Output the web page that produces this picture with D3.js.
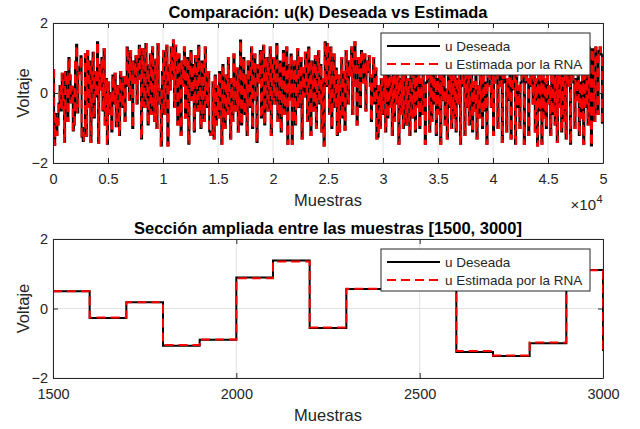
<!DOCTYPE html>
<html>
<head>
<meta charset="utf-8">
<script src="https://cdn.jsdelivr.net/npm/d3@7"></script>
<style>
  body { margin: 0; background: #fff; }
  svg { display: block; }
  text { font-family: "Liberation Sans", Arial, Helvetica, sans-serif; fill: #262626; }
</style>
</head>
<body>
<svg id="fig" width="640" height="429"></svg>
<script>
// Señal de control deseada: un nivel constante cada 100 muestras (500 escalones)
const muestrasPorPaso = 100;
const uDeseada = [
  0.65, -1.48, -0.6, -1.2, -0.9, -0.3, 0.2, -0.5, 0.55, -0.2,
  -1.4, 0.6, 0.1, -0.8, 1.0, 0.5, -0.27, 0.18, -1.07, -0.9,
  0.89, 1.38, -0.56, 0.56, 0.75, 1.05, -1.25, -1.37, -1.0, 1.11,
  -1.22, 1.2, -0.4, 0.9, -1.4, 0.3, 1.15, -0.7, 0.6, -0.1,
  1.45, -1.42, 0.8, 0.1, 1.0, -0.5, 1.25, -0.9, 0.4, -1.45,
  0.3, -0.6, 0.0, -1.1, 0.5, -0.3, 0.55, -0.95, 0.2, -0.5,
  -1.2, 0.6, 0.1, -0.4, 0.45, -0.8, 0.2, 1.3, 0.9, -0.2,
  1.2, 0.5, -1.0, 0.9, 0.3, 1.05, -0.3, 0.7, 1.35, 0.4,
  -1.3, 1.25, 0.6, -0.4, 1.4, 0.8, -0.9, 0.5, 1.1, -0.6,
  1.3, 0.2, -0.8, 0.95, -1.0, 1.4, 0.1, -0.3, -1.5, 0.6,
  1.2, -0.6, 0.3, 1.35, -1.5, 0.8, 0.1, 1.3, 0.4, 1.5,
  -0.4, 1.35, 0.7, -0.9, 1.1, 0.3, -1.2, 0.9, 0.2, 1.3,
  -0.7, 0.5, 1.0, -1.45, 0.4, 1.2, -0.2, 0.8, -1.1, 1.05,
  0.6, -0.5, 1.35, 0.2, -1.0, 0.9, 0.5, -0.8, 1.3, 0.1,
  -0.4, 0.6, -1.1, -1.2, -1.15, 0.3, -1.3, 0.5, -0.9, 0.2,
  -0.7, 0.6, -0.2, -1.45, 0.8, 0.3, -1.0, 0.5, -0.6, 1.0,
  -0.3, -1.3, 0.4, -0.8, 1.1, 0.2, -0.5, 0.7, -1.1, 0.4,
  1.5, -0.9, 0.3, 1.0, -0.6, 0.5, -1.2, 0.9, 0.2, -0.4,
  1.3, -1.0, 0.6, 1.1, -0.2, -1.4, 0.8, 0.3, 1.2, -0.7,
  0.5, 1.35, -0.9, 0.2, 1.0, -0.5, 0.7, 1.3, -1.2, 0.4,
  1.0, -0.3, 0.6, 1.4, -0.8, 0.2, 0.9, -1.1, 0.5, 1.2,
  -0.6, 0.3, 1.3, -1.45, 0.8, -0.2, 1.1, -1.45, 0.4, 0.9,
  -0.9, 0.5, 1.25, -0.4, 0.2, 1.0, -1.3, 0.7, -0.1, 1.15,
  0.3, -0.8, 1.3, 0.5, -1.2, 0.9, 0.1, -0.5, 1.05, -1.0,
  0.6, 1.2, -0.3, 0.8, -1.1, 0.4, -1.5, 1.45, 0.2, 1.4,
  0.9, -0.6, 1.3, -1.0, 0.3, 1.1, -0.4, 0.7, -1.2, 0.5,
  -1.1, 0.2, 1.0, -0.7, 0.6, -1.05, 1.2, 0.4, -0.3, 0.9,
  0.5, 1.3, -0.6, 0.8, 1.45, 0.2, -0.9, 1.0, 0.6, -0.4,
  1.2, 0.8, 0.3, 1.1, -0.5, 0.9, 0.6, 1.05, 0.2, -0.8,
  0.5, 1.0, -0.3, 0.7, -1.3, -1.25, 0.2, -1.0, 0.4, -0.6,
  -0.2, 1.1, -1.1, 0.5, -0.7, 0.9, -0.4, 0.45, -1.2, 1.3,
  -0.8, 0.5, -0.3, 1.2, -1.45, 0.4, -0.6, 1.0, -1.0, 0.5,
  1.3, -0.9, 0.4, -0.3, -1.2, 0.8, 0.0, -0.7, 1.1, -1.1,
  0.5, -0.4, 1.2, -1.0, 0.4, -0.6, 1.4, -0.2, -1.45, 0.3,
  0.9, 0.4, -1.1, 1.2, -0.8, 0.5, -0.3, 1.0, -1.2, 0.4,
  -0.6, 1.3, -1.45, 0.5, -0.2, 1.1, -0.9, 0.1, -1.3, 0.8,
  -0.4, 1.2, -1.0, 0.5, -0.7, 1.35, -1.1, 0.4, -0.3, 0.9,
  -1.45, 0.2, 1.1, 0.4, -1.2, 0.5, -0.4, 1.3, -0.9, 0.1,
  1.0, -1.1, 0.3, -0.5, 1.2, -1.3, 0.2, -0.7, 0.8, -0.2,
  -1.0, 1.4, -0.5, 0.3, -1.45, 0.5, 1.1, 0.2, -0.4, 0.9,
  -1.2, 0.3, 1.2, 0.5, -1.0, 0.2, 1.0, 0.4, -1.4, 0.5,
  1.3, 0.3, -1.1, 0.4, -0.2, 1.1, -1.3, 0.1, 0.9, 0.4,
  -1.45, 1.2, -0.4, 0.2, -1.0, 0.3, 1.3, 0.5, -1.45, 0.3,
  1.0, 0.4, -1.2, 0.2, 1.2, 0.5, -0.3, 0.9, -1.1, 0.4,
  -1.5, 1.1, -0.5, 0.5, -1.45, 1.3, -0.7, 0.4, -1.0, 0.8,
  -0.3, 0.2, -1.2, 1.2, -0.6, 0.5, -0.9, 1.0, -1.4, 0.5,
  -0.4, 1.3, -1.1, 0.5, -0.8, 0.9, -1.3, 0.4, 1.1, 0.2,
  -1.45, 0.5, 1.2, 0.3, -1.0, 0.4, -0.2, 1.0, -1.2, 0.3,
  -0.7, 0.5, -1.45, 1.1, -0.4, 1.0, -0.9, 1.3, 0.6, -1.5,
  1.25, 0.4, -0.8, 1.3, 0.9, -0.6, 1.2, 1.3, 1.1, -0.85
];

// Salida de la red neuronal en el tramo 1500-3000 (escalones 15 a 30);
// fuera de ese tramo la estimación coincide con la señal deseada
const pasoInicioTramo = 15;
const uEstimadaTramo = [
  0.50, -0.26, 0.18, -1.05, -0.89, 0.87, 1.35, -0.55,
  0.57, 0.75, 1.05, -1.22, -1.35, -0.98, 1.10, -1.21
];
const uEstimada = uDeseada.map((v, i) => {
  const j = i - pasoInicioTramo;
  return (j >= 0 && j < uEstimadaTramo.length) ? uEstimadaTramo[j] : v;
});

// Ejes
const totalMuestras = 50000;
const ticksX1 = [0, 5000, 10000, 15000, 20000, 25000, 30000, 35000, 40000, 45000, 50000];
const etiquetasX1 = ["0", "0.5", "1", "1.5", "2", "2.5", "3", "3.5", "4", "4.5", "5"];
const rangoZoom = [1500, 3000];
const ticksX2 = [1500, 2000, 2500, 3000];
const ticksY = [-2, 0, 2];
const limitesY = [-2, 2];

const titulo1 = "Comparación: u(k) Deseada vs Estimada";
const titulo2 = "Sección ampliada entre las muestras [1500, 3000]";
const nombresSeries = ["u Deseada", "u Estimada por la RNA"];

// ---------------------------------------------------------------
const svg = d3.select("#fig");
const INK = "#262626";
const GRID = "#e2e2e2";
const AX_L = 53, AX_R = 603;

function puntos(serie, desde, hasta) {
  const pts = [];
  serie.forEach((v, i) => {
    const m = i * muestrasPorPaso;
    if (m + muestrasPorPaso > desde && m <= hasta) pts.push({ m: Math.max(m, desde), v });
  });
  const ultimo = pts[pts.length - 1];
  if (ultimo.m < hasta) pts.push({ m: hasta, v: ultimo.v });
  return pts;
}

function panel(cfg) {
  const x = d3.scaleLinear().domain(cfg.dominioX).range([AX_L, AX_R]);
  const y = d3.scaleLinear().domain(limitesY).range([cfg.abajo, cfg.arriba]);
  const g = svg.append("g");

  // fondo blanco del área de ejes
  g.append("rect").attr("x", AX_L).attr("y", cfg.arriba)
    .attr("width", AX_R - AX_L).attr("height", cfg.abajo - cfg.arriba)
    .attr("fill", "#fff");

  // cuadrícula
  g.append("g").selectAll("line").data(cfg.ticksX).join("line")
    .attr("x1", d => x(d)).attr("x2", d => x(d))
    .attr("y1", cfg.arriba).attr("y2", cfg.abajo)
    .attr("stroke", GRID).attr("stroke-width", 1);
  g.append("g").selectAll("line").data(ticksY).join("line")
    .attr("y1", d => y(d)).attr("y2", d => y(d))
    .attr("x1", AX_L).attr("x2", AX_R)
    .attr("stroke", GRID).attr("stroke-width", 1);

  // recorte al área de ejes
  const clipId = "clip-" + cfg.id;
  svg.append("clipPath").attr("id", clipId).append("rect")
    .attr("x", AX_L).attr("y", cfg.arriba)
    .attr("width", AX_R - AX_L).attr("height", cfg.abajo - cfg.arriba);

  const linea = d3.line().x(d => x(d.m)).y(d => y(d.v)).curve(d3.curveStepAfter);
  const trazos = g.append("g").attr("clip-path", `url(#${clipId})`);
  trazos.append("path")
    .attr("d", linea(puntos(uDeseada, cfg.dominioX[0], cfg.dominioX[1])))
    .attr("fill", "none").attr("stroke", "#000").attr("stroke-width", 2)
    .attr("stroke-linejoin", "miter");
  trazos.append("path")
    .attr("d", linea(puntos(uEstimada, cfg.dominioX[0], cfg.dominioX[1])))
    .attr("fill", "none").attr("stroke", "#ff0000").attr("stroke-width", 2)
    .attr("stroke-dasharray", "9,5");

  // ejes con marcas hacia dentro (caja completa)
  const fuenteTick = "14.5px";
  const ejeAbajo = g.append("g").attr("transform", `translate(0,${cfg.abajo})`)
    .call(d3.axisBottom(x).tickValues(cfg.ticksX).tickFormat((d, i) => cfg.etiquetasX[i])
      .tickSizeInner(-5).tickSizeOuter(0).tickPadding(11));
  const ejeArriba = g.append("g").attr("transform", `translate(0,${cfg.arriba})`)
    .call(d3.axisTop(x).tickValues(cfg.ticksX).tickFormat("").tickSizeInner(-5).tickSizeOuter(0));
  const ejeIzq = g.append("g").attr("transform", `translate(${AX_L},0)`)
    .call(d3.axisLeft(y).tickValues(ticksY).tickFormat(d3.format("d"))
      .tickSizeInner(-5).tickSizeOuter(0).tickPadding(5));
  const ejeDer = g.append("g").attr("transform", `translate(${AX_R},0)`)
    .call(d3.axisRight(y).tickValues(ticksY).tickFormat("").tickSizeInner(-5).tickSizeOuter(0));
  [ejeAbajo, ejeArriba, ejeIzq, ejeDer].forEach(e => {
    e.attr("font-family", null).attr("font-size", null);
    e.select(".domain").attr("stroke", INK).attr("stroke-width", 1);
    e.selectAll(".tick line").attr("stroke", INK).attr("stroke-width", 1);
    e.selectAll(".tick text").attr("fill", INK).style("font-size", fuenteTick);
  });

  // título y etiquetas de ejes
  g.append("text").attr("x", (AX_L + AX_R) / 2).attr("y", cfg.arriba - 5)
    .attr("text-anchor", "middle").style("font-size", "16.5px").style("font-weight", "bold")
    .style("fill", "#000")
    .text(cfg.titulo);
  g.append("text").attr("x", (AX_L + AX_R) / 2).attr("y", cfg.abajo + 42.5)
    .attr("text-anchor", "middle").style("font-size", "16.5px").text("Muestras");
  g.append("text")
    .attr("transform", `translate(29,${(cfg.arriba + cfg.abajo) / 2}) rotate(-90)`)
    .attr("text-anchor", "middle").style("font-size", "16.5px").text("Voltaje");

  // leyenda
  const lx = 381, lw = 209, ly = cfg.arriba + 10, lh = 42;
  const ley = g.append("g");
  ley.append("rect").attr("x", lx).attr("y", ly).attr("width", lw).attr("height", lh)
    .attr("fill", "#fff").attr("stroke", INK).attr("stroke-width", 1);
  const filas = [
    { nombre: nombresSeries[0], color: "#000", dash: null, dy: 13 },
    { nombre: nombresSeries[1], color: "#ff0000", dash: "9,5", dy: 31 }
  ];
  filas.forEach(f => {
    ley.append("line").attr("x1", lx + 6).attr("x2", lx + 59)
      .attr("y1", ly + f.dy).attr("y2", ly + f.dy)
      .attr("stroke", f.color).attr("stroke-width", 2)
      .attr("stroke-dasharray", f.dash);
    ley.append("text").attr("x", lx + 64).attr("y", ly + f.dy + 4.8)
      .style("font-size", "13.5px").text(f.nombre);
  });
  return { x, y, g };
}

const p1 = panel({
  id: "completo", arriba: 23, abajo: 163,
  dominioX: [0, totalMuestras], ticksX: ticksX1, etiquetasX: etiquetasX1,
  titulo: titulo1
});
// factor de escala del eje x
p1.g.append("text").attr("x", 596).attr("y", 210)
  .attr("text-anchor", "end").style("font-size", "15px").text("×10");
p1.g.append("text").attr("x", 596.5).attr("y", 203).style("font-size", "11px").text("4");

panel({
  id: "tramo", arriba: 239, abajo: 378,
  dominioX: rangoZoom, ticksX: ticksX2, etiquetasX: ticksX2.map(String),
  titulo: titulo2
});
</script>
</body>
</html>
